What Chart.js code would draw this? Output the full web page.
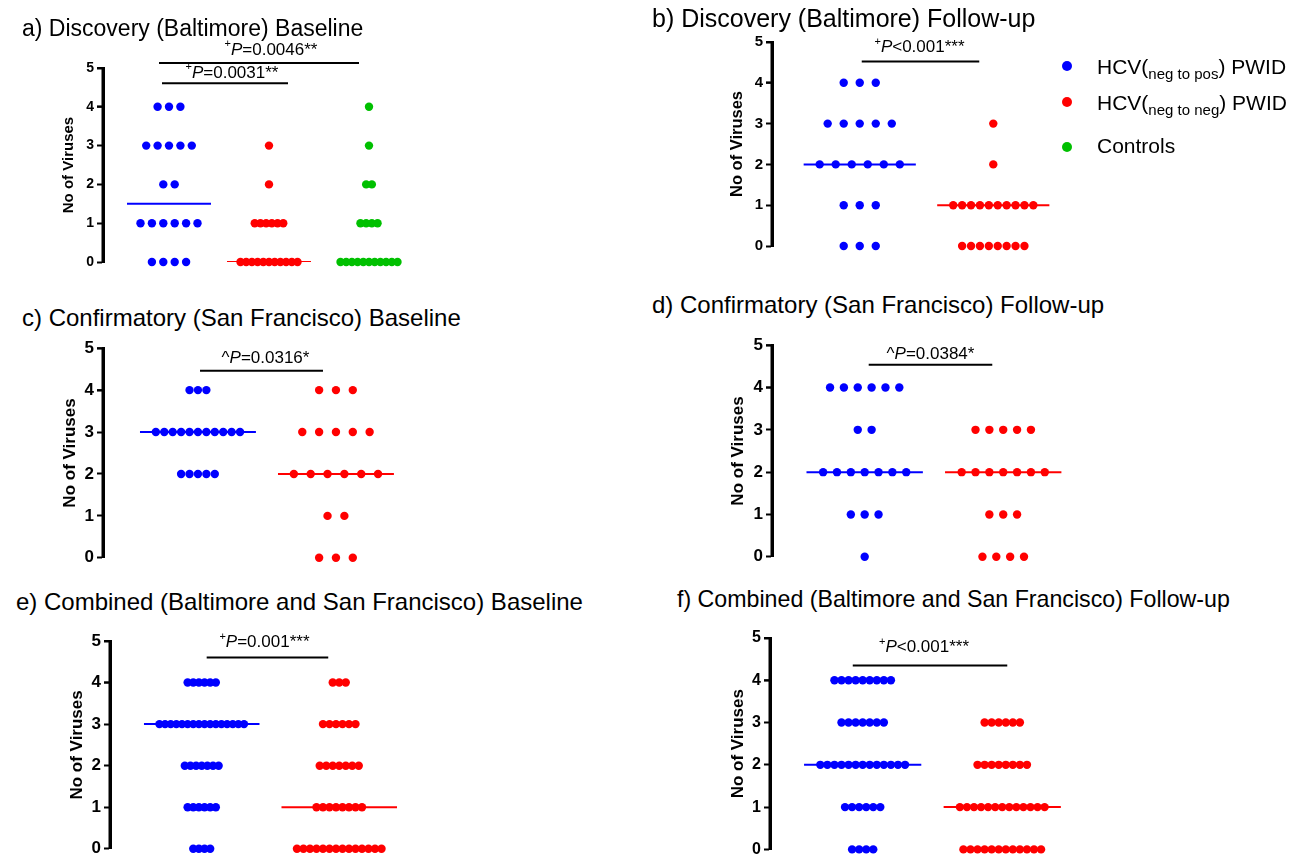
<!DOCTYPE html>
<html>
<head>
<meta charset="utf-8">
<script src="https://cdn.jsdelivr.net/npm/chart.js@4.4.1/dist/chart.umd.min.js"></script>
<style>
  body { margin: 0; width: 1301px; height: 862px; background: #fff; position: relative; overflow: hidden;
         font-family: Arial, "Liberation Sans", sans-serif; color: #000; }
  canvas { position: absolute; }
  .ptitle { position: absolute; line-height: 1; white-space: nowrap; }
  .ldot { position: absolute; left: 1062px; width: 10px; height: 10px; border-radius: 50%; }
  .ltext { position: absolute; left: 1097px; font-size: 21px; line-height: 21px; white-space: nowrap; }
  .ltext sub { font-size: 15px; line-height: 0; vertical-align: -5px; }
</style>
</head>
<body>
<canvas id="panelA"></canvas>
<canvas id="panelB"></canvas>
<canvas id="panelC"></canvas>
<canvas id="panelD"></canvas>
<canvas id="panelE"></canvas>
<canvas id="panelF"></canvas>

<div class="ptitle" style="left:22px;top:17px;font-size:23px">a) Discovery (Baltimore) Baseline</div>
<div class="ptitle" style="left:652px;top:6px;font-size:25px">b) Discovery (Baltimore) Follow-up</div>
<div class="ptitle" style="left:22px;top:306px;font-size:24px">c) Confirmatory (San Francisco) Baseline</div>
<div class="ptitle" style="left:652px;top:293px;font-size:24px">d) Confirmatory (San Francisco) Follow-up</div>
<div class="ptitle" style="left:16px;top:590px;font-size:24px">e) Combined (Baltimore and San Francisco) Baseline</div>
<div class="ptitle" style="left:677px;top:588px;font-size:23.2px">f) Combined (Baltimore and San Francisco) Follow-up</div>

<div class="ldot" style="top:61px;background:#0000ff"></div>
<div class="ltext" style="top:56px">HCV(<sub>neg to pos</sub>) PWID</div>
<div class="ldot" style="top:97px;background:#ff0000"></div>
<div class="ltext" style="top:92px">HCV(<sub>neg to neg</sub>) PWID</div>
<div class="ldot" style="top:142px;background:#00c000"></div>
<div class="ltext" style="top:135px">Controls</div>

<script>
// y levels (No of Viruses) and axis ticks
const levels = [0, 1, 2, 3, 4];
const yTicks = [0, 1, 2, 3, 4, 5];
const axisTitle = 'No of Viruses';

const COLORS = { pos: '#0000ff', neg: '#ff0000', ctl: '#00c000' };
const FAMILY = 'Arial, "Liberation Sans", sans-serif';

// number of subjects at 0, 1, 2, 3, 4 viruses
const aPos = [4, 6, 2, 5, 3];
const aNeg = [11, 6, 1, 1, 0];
const aCtl = [11, 4, 2, 1, 1];
const bPos = [3, 3, 6, 5, 3];
const bNeg = [8, 10, 1, 1, 0];
const cPos = [0, 0, 5, 11, 3];
const cNeg = [3, 2, 6, 5, 3];
const dPos = [1, 3, 7, 2, 6];
const dNeg = [4, 3, 7, 5, 0];
const ePos = [4, 6, 7, 16, 6];
const eNeg = [14, 8, 7, 6, 3];
const fPos = [4, 6, 13, 7, 9];
const fNeg = [12, 13, 8, 6, 0];

// significance labels
const aSigTop = '=0.0046**';
const aSigLow = '=0.0031**';
const bSig = '<0.001***';
const cSig = '=0.0316*';
const dSig = '=0.0384*';
const eSig = '=0.001***';
const fSig = '<0.001***';

// spread each row of dots around the group centre (column scatter)
function dotsFor(counts, center, spread) {
    const maxN = Math.max(...counts);
    const step = maxN > 1 ? spread / (maxN - 1) : 0;
    const pts = [];
    counts.forEach((n, k) => {
        for (let i = 0; i < n; i++) {
            pts.push({ x: center + (i - (n - 1) / 2) * step, y: levels[k] });
        }
    });
    return pts;
}

function median(counts) {
    const vals = [];
    counts.forEach((n, k) => { for (let i = 0; i < n; i++) vals.push(levels[k]); });
    const mid = Math.floor(vals.length / 2);
    return vals.length % 2 ? vals[mid] : (vals[mid - 1] + vals[mid]) / 2;
}

function drawLabel(ctx, b, cx, cy) {
    const parts = [];
    if (b.sup) parts.push({ text: b.sup, font: '11px ' + FAMILY, dy: -6 });
    if (b.pre) parts.push({ text: b.pre, font: '17px ' + FAMILY, dy: 0 });
    parts.push({ text: 'P', font: 'italic 17px ' + FAMILY, dy: 0 });
    parts.push({ text: b.text, font: '17px ' + FAMILY, dy: 0 });
    let total = 0;
    parts.forEach(p => { ctx.font = p.font; p.w = ctx.measureText(p.text).width; total += p.w; });
    let x = cx - total / 2;
    ctx.fillStyle = '#000';
    ctx.textAlign = 'left';
    ctx.textBaseline = 'middle';
    parts.forEach(p => { ctx.font = p.font; ctx.fillText(p.text, x, cy + p.dy); x += p.w; });
}

// significance bars with their P labels
function sigPlugin(bars) {
    return {
        id: 'sigBars',
        afterDraw(chart) {
            const { ctx, scales: { x, y } } = chart;
            ctx.save();
            ctx.strokeStyle = '#000';
            ctx.lineWidth = 2;
            bars.forEach(b => {
                const x1 = x.getPixelForValue(b.from);
                const x2 = x.getPixelForValue(b.to);
                const yy = y.getPixelForValue(b.level);
                ctx.beginPath();
                ctx.moveTo(x1, yy);
                ctx.lineTo(x2, yy);
                ctx.stroke();
                drawLabel(ctx, b, (x1 + x2) / 2 + b.dx, yy - b.dy);
            });
            ctx.restore();
        }
    };
}

const panels = [
    { id: 'panelA', box: { left: 30, top: 35, width: 400, height: 239 }, pad: { top: 33, bottom: 12, right: 10 },
      yWidth: 73, xMin: 0.34, xMax: 3.51, spread: 0.57, tickSize: 14, titleSize: 15, titlePad: 30,
      groups: [{ counts: aPos, color: COLORS.pos, median: true },
               { counts: aNeg, color: COLORS.neg, median: true },
               { counts: aCtl, color: COLORS.ctl, median: false }],
      sig: [{ from: 0.90, to: 2.90, level: 5.13, dx: 12, dy: 13, sup: '+', text: aSigTop },
            { from: 0.93, to: 2.19, level: 4.61, dx: 7, dy: 10, sup: '+', text: aSigLow }] },
    { id: 'panelB', box: { left: 690, top: 30, width: 385, height: 228 }, pad: { top: 9, bottom: 12, right: 5 },
      yWidth: 82, xMin: 0.343, xMax: 2.567, spread: 0.6, tickSize: 15, titleSize: 16.5, titlePad: 38,
      groups: [{ counts: bPos, color: COLORS.pos, median: true },
               { counts: bNeg, color: COLORS.neg, median: true }],
      sig: [{ from: 1.015, to: 1.895, level: 4.52, dx: -1, dy: 14, sup: '+', text: bSig }] },
    { id: 'panelC', box: { left: 30, top: 335, width: 400, height: 236 }, pad: { top: 10, bottom: 12, right: 10 },
      yWidth: 73, xMin: 0.312, xMax: 2.609, spread: 0.61, tickSize: 17, titleSize: 17, titlePad: 30,
      groups: [{ counts: cPos, color: COLORS.pos, median: true },
               { counts: cNeg, color: COLORS.neg, median: true }],
      sig: [{ from: 1.015, to: 1.906, level: 4.46, dx: 4, dy: 13, pre: '^', text: cSig }] },
    { id: 'panelD', box: { left: 690, top: 332, width: 395, height: 238 }, pad: { top: 10, bottom: 12, right: 5 },
      yWidth: 82, xMin: 0.331, xMax: 2.547, spread: 0.6, tickSize: 17, titleSize: 17, titlePad: 38,
      groups: [{ counts: dPos, color: COLORS.pos, median: true },
               { counts: dNeg, color: COLORS.neg, median: true }],
      sig: [{ from: 1.029, to: 1.921, level: 4.54, dx: 0, dy: 10, pre: '^', text: dSig }] },
    { id: 'panelE', box: { left: 30, top: 625, width: 395, height: 237 }, pad: { top: 16, bottom: 7, right: 5 },
      yWidth: 80, xMin: 0.333, xMax: 2.580, spread: 0.615, tickSize: 17, titleSize: 17, titlePad: 37,
      groups: [{ counts: ePos, color: COLORS.pos, median: true },
               { counts: eNeg, color: COLORS.neg, median: true }],
      sig: [{ from: 1.036, to: 1.92, level: 4.60, dx: -3, dy: 15, sup: '+', text: eSig }] },
    { id: 'panelF', box: { left: 690, top: 622, width: 395, height: 240 }, pad: { top: 16, bottom: 9, right: 5 },
      yWidth: 80, xMin: 0.336, xMax: 2.550, spread: 0.607, tickSize: 16, titleSize: 17, titlePad: 38,
      groups: [{ counts: fPos, color: COLORS.pos, median: true },
               { counts: fNeg, color: COLORS.neg, median: true }],
      sig: [{ from: 0.929, to: 2.036, level: 4.35, dx: -6, dy: 18, sup: '+', text: fSig }] }
];

function makePanel(p) {
    const canvas = document.getElementById(p.id);
    canvas.width = p.box.width;
    canvas.height = p.box.height;
    canvas.style.left = p.box.left + 'px';
    canvas.style.top = p.box.top + 'px';

    const dots = [];
    const lines = [];
    p.groups.forEach((g, i) => {
        const cx = i + 1;
        dots.push({
            data: dotsFor(g.counts, cx, p.spread),
            backgroundColor: g.color,
            borderWidth: 0,
            pointRadius: 4.2,
            clip: false
        });
        if (g.median) {
            const m = median(g.counts);
            lines.push({
                data: [{ x: cx - 0.42, y: m }, { x: cx + 0.42, y: m }],
                borderColor: g.color,
                borderWidth: 2,
                pointRadius: 0,
                showLine: true
            });
        }
    });

    // y-axis spine and outward tick marks as datasets on the left edge of the plot
    const plotWidth = p.box.width - p.pad.right - p.yWidth;
    const tickHalf = 3 * (p.xMax - p.xMin) / plotWidth;
    const axisSets = [
        {
            data: [{ x: p.xMin, y: 0 }, { x: p.xMin, y: 5 }],
            borderColor: '#000',
            borderWidth: 3,
            pointRadius: 0,
            showLine: true,
            clip: false
        },
        {
            data: yTicks.map(v => ({ x: p.xMin - tickHalf, y: v })),
            pointStyle: 'line',
            pointRadius: 3,
            borderColor: '#000',
            backgroundColor: '#000',
            borderWidth: 2,
            clip: false
        }
    ];

    new Chart(canvas, {
        type: 'scatter',
        data: { datasets: dots.concat(lines, axisSets) },
        options: {
            responsive: false,
            animation: false,
            layout: { padding: { left: 0, top: p.pad.top, right: p.pad.right, bottom: p.pad.bottom } },
            plugins: { legend: { display: false }, tooltip: { enabled: false } },
            scales: {
                x: { type: 'linear', display: false, min: p.xMin, max: p.xMax },
                y: {
                    min: 0,
                    max: 5,
                    afterFit: s => { s.width = p.yWidth; },
                    afterBuildTicks: s => { s.ticks = yTicks.map(v => ({ value: v })); },
                    ticks: { color: '#000', font: { family: FAMILY, size: p.tickSize, weight: 'bold' }, padding: 3 },
                    grid: { drawOnChartArea: false, drawTicks: true, tickLength: 6, tickWidth: 2, tickColor: '#000' },
                    border: { display: true, color: '#000', width: 3 },
                    title: {
                        display: true,
                        text: axisTitle,
                        color: '#000',
                        font: { family: FAMILY, size: p.titleSize, weight: 'bold' },
                        padding: { top: p.titlePad, bottom: 0 }
                    }
                }
            }
        },
        plugins: [sigPlugin(p.sig)]
    });
}

panels.forEach(makePanel);
</script>
</body>
</html>
